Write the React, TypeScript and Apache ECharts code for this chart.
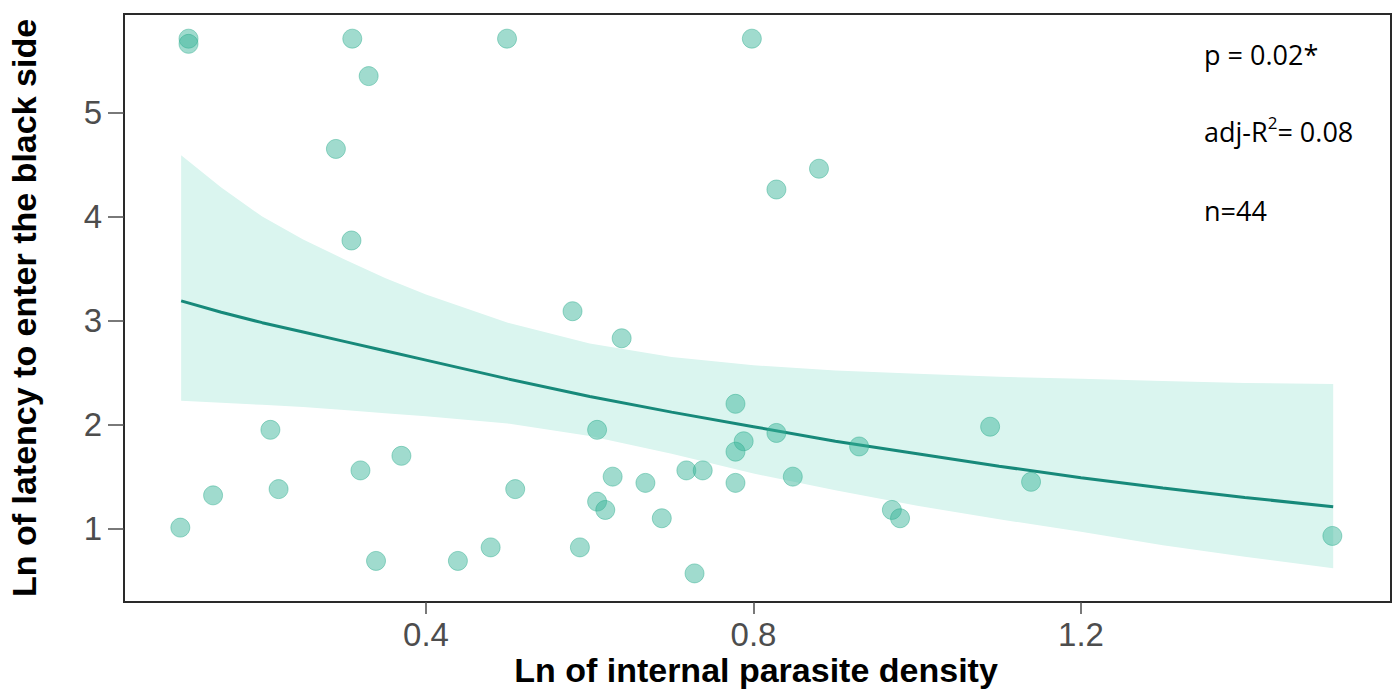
import React, { useEffect, useRef } from "react";
import * as echarts from "echarts";

// Observed points
const pointX = [
  0.110, 0.110, 0.310, 0.330, 0.290, 0.309, 0.499, 0.798, 0.880, 0.828, 0.579, 0.639,
  0.100, 0.140, 0.210, 0.220, 0.320, 0.339, 0.370, 0.778, 0.609, 0.828, 0.788, 0.778,
  0.929, 0.718, 0.738, 0.628, 0.668, 0.778, 0.848, 0.509, 0.609, 0.619, 0.688, 0.588,
  0.479, 0.439, 0.728, 1.089, 1.139, 0.969, 0.979, 1.507,
];
const pointY = [
  5.71, 5.66, 5.71, 5.35, 4.65, 3.77, 5.71, 5.71, 4.46, 4.26, 3.09, 2.83,
  1.01, 1.32, 1.95, 1.38, 1.56, 0.69, 1.70, 2.20, 1.95, 1.92, 1.84, 1.74,
  1.79, 1.56, 1.56, 1.50, 1.44, 1.44, 1.50, 1.38, 1.26, 1.18, 1.10, 0.82,
  0.82, 0.69, 0.57, 1.98, 1.45, 1.18, 1.10, 0.93,
];

// Fitted curve and confidence band
const fitX = [0.101, 0.15, 0.2, 0.25, 0.3, 0.35, 0.4, 0.5, 0.6, 0.7, 0.8, 0.9, 1.0, 1.1, 1.2, 1.3, 1.4, 1.508];
const fitY = [3.19, 3.08, 2.98, 2.89, 2.80, 2.71, 2.62, 2.44, 2.27, 2.12, 1.98, 1.84, 1.72, 1.60, 1.49, 1.39, 1.30, 1.21];
const bandUpper = [4.59, 4.28, 4.00, 3.78, 3.59, 3.41, 3.25, 2.98, 2.78, 2.65, 2.57, 2.52, 2.49, 2.46, 2.44, 2.42, 2.40, 2.39];
const bandLower = [2.23, 2.21, 2.19, 2.17, 2.14, 2.11, 2.08, 2.01, 1.89, 1.72, 1.53, 1.37, 1.22, 1.09, 0.97, 0.84, 0.73, 0.62];

const xTicks = [0.4, 0.8, 1.2];
const yTicks = [1, 2, 3, 4, 5];

const annotations = ["p = 0.02*", "adj-R{s|2}= 0.08", "n=44"];

export default function App() {
  const ref = useRef<HTMLDivElement>(null);

  useEffect(() => {
    document.body.style.margin = "0";
    if (!ref.current) return;
    const chart = echarts.init(ref.current, null, { renderer: "svg" });

    const scatterData = pointX.map((x, i) => [x, pointY[i]]);
    const lineData = fitX.map((x, i) => [x, fitY[i]]);

    const labelFont = "'Liberation Sans', Arial, sans-serif";

    chart.setOption({
      animation: false,
      backgroundColor: "#ffffff",
      grid: {
        left: 124,
        right: 9,
        top: 14,
        bottom: 87,
        show: true,
        borderColor: "#2a2a2a",
        borderWidth: 2,
        backgroundColor: "transparent",
      },
      xAxis: {
        type: "value",
        min: 0.0312,
        max: 1.5786,
        axisLine: { show: false },
        splitLine: { show: false },
        axisTick: {
          show: true,
          length: 12,
          customValues: xTicks,
          lineStyle: { color: "#4d4d4d", width: 1.5 },
        },
        axisLabel: {
          customValues: xTicks,
          formatter: (v: number) => v.toFixed(1),
          color: "#4d4d4d",
          fontSize: 33,
          fontFamily: labelFont,
          margin: 16,
        },
      },
      yAxis: {
        type: "value",
        min: 0.295,
        max: 5.947,
        axisLine: { show: false },
        splitLine: { show: false },
        axisTick: {
          show: true,
          length: 16,
          customValues: yTicks,
          lineStyle: { color: "#4d4d4d", width: 1.5 },
        },
        axisLabel: {
          customValues: yTicks,
          formatter: (v: number) => String(v),
          color: "#4d4d4d",
          fontSize: 33,
          fontFamily: labelFont,
          margin: 22,
        },
      },
      graphic: [
        {
          type: "text",
          x: 24,
          y: 308,
          rotation: Math.PI / 2,
          style: {
            text: "Ln of latency to enter the black side",
            fontSize: 34,
            fontWeight: "bold",
            fontFamily: labelFont,
            fill: "#000",
            align: "center",
            verticalAlign: "middle",
          },
        },
        {
          type: "text",
          x: 756,
          y: 670,
          style: {
            text: "Ln of internal parasite density",
            fontSize: 34,
            fontWeight: "bold",
            fontFamily: labelFont,
            fill: "#000",
            align: "center",
            verticalAlign: "middle",
          },
        },
        ...annotations.map((t, i) => ({
          type: "text",
          x: 1204,
          y: [54, 131, 210][i],
          style: {
            text: t,
            fontSize: 27,
            fontFamily: "'Open Sans', sans-serif",
            fill: "#000",
            align: "left",
            verticalAlign: "middle",
            rich: {
              s: {
                fontSize: 17,
                fontFamily: "'Open Sans', sans-serif",
                fill: "#000",
                padding: [0, 0, 18, 0],
              },
            },
          },
        })),
      ],
      series: [
        {
          type: "custom",
          z: 1,
          silent: true,
          data: [[0]],
          renderItem: (_params: any, api: any) => {
            const pts: number[][] = [];
            for (let i = 0; i < fitX.length; i++) pts.push(api.coord([fitX[i], bandUpper[i]]));
            for (let i = fitX.length - 1; i >= 0; i--) pts.push(api.coord([fitX[i], bandLower[i]]));
            return {
              type: "polygon",
              shape: { points: pts },
              style: { fill: "#daf5ef" },
            };
          },
        },
        {
          type: "line",
          z: 2,
          data: lineData,
          showSymbol: false,
          symbol: "none",
          lineStyle: { color: "#17897a", width: 3 },
          silent: true,
        },
        {
          type: "scatter",
          z: 3,
          data: scatterData,
          symbol: "circle",
          symbolSize: 19,
          itemStyle: {
            color: "rgba(57,180,152,0.6)",
            borderColor: "rgba(40,170,140,0.55)",
            borderWidth: 1,
          },
        },
      ],
    });

    return () => chart.dispose();
  }, []);

  return <div ref={ref} style={{ width: 1400, height: 689 }} />;
}
